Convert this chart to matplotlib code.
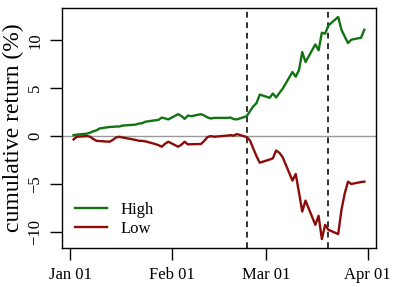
import pandas as pd
import matplotlib
matplotlib.use("Agg")
from matplotlib import pyplot as plt
import matplotlib.dates as mdates

plt.rcParams['font.family'] = ['Liberation Serif', 'DejaVu Serif']

# trading days, Jan 02 - Mar 31 2020
days = ["2020-01-02", "2020-01-03", "2020-01-06", "2020-01-07", "2020-01-08", "2020-01-09", "2020-01-10",
        "2020-01-13", "2020-01-14", "2020-01-15", "2020-01-16", "2020-01-17",
        "2020-01-21", "2020-01-22", "2020-01-23", "2020-01-24",
        "2020-01-27", "2020-01-28", "2020-01-29", "2020-01-30", "2020-01-31",
        "2020-02-03", "2020-02-04", "2020-02-05", "2020-02-06", "2020-02-07",
        "2020-02-10", "2020-02-11", "2020-02-12", "2020-02-13", "2020-02-14",
        "2020-02-18", "2020-02-19", "2020-02-20", "2020-02-21",
        "2020-02-24", "2020-02-25", "2020-02-26", "2020-02-27", "2020-02-28",
        "2020-03-02", "2020-03-03", "2020-03-04", "2020-03-05", "2020-03-06",
        "2020-03-09", "2020-03-10", "2020-03-11", "2020-03-12", "2020-03-13",
        "2020-03-16", "2020-03-17", "2020-03-18", "2020-03-19", "2020-03-20",
        "2020-03-23", "2020-03-24", "2020-03-25", "2020-03-26", "2020-03-27",
        "2020-03-30", "2020-03-31"]

high = [0.1, 0.15, 0.25, 0.35, 0.5, 0.6, 0.8,
        0.95, 0.97, 1.0, 1.0, 1.1,
        1.2, 1.3, 1.35, 1.5,
        1.65, 1.7, 1.94, 1.85, 1.74,
        2.29, 2.1, 1.8, 2.15, 2.08,
        2.29, 2.15, 1.95, 1.84, 1.9,
        1.9, 1.94, 1.78, 1.74,
        2.08, 2.6, 3.1, 3.45, 4.34,
        4.0, 4.45, 4.03, 4.5, 4.95,
        6.7, 6.2, 6.9, 8.78, 7.74,
        9.58, 8.96, 10.8, 10.7, 11.56,
        12.45, 11.1, 10.4, 9.72, 10.07,
        10.28, 11.11]

low = [-0.35, -0.07, 0.0, -0.05, -0.3, -0.49, -0.52,
       -0.59, -0.4, -0.15, -0.07, -0.15,
       -0.4, -0.49, -0.5, -0.55,
       -0.83, -0.95, -1.11, -0.8, -0.59,
       -1.11, -0.9, -0.59, -0.87, -0.85,
       -0.83, -0.5, -0.1, 0.0, -0.07,
       0.05, 0.1, 0.05, 0.21,
       -0.1, -0.45, -1.3, -2.1, -2.78,
       -2.45, -2.33, -1.5, -1.75, -2.2,
       -4.65, -3.96, -5.9, -7.88, -6.74,
       -9.27, -8.33, -10.76, -9.27, -9.79,
       -10.24, -7.7, -6.0, -4.76, -5.0,
       -4.8, -4.76]

events = ["2020-02-24", "2020-03-20"]
xticks = ["2020-01-01", "2020-02-01", "2020-03-01", "2020-04-01"]
yticks = [-10, -5, 0, 5, 10]

dates = pd.to_datetime(days)

fig = plt.figure(figsize=(3.97, 2.87), dpi=100)
ax = fig.add_axes([0.156, 0.136, 0.791, 0.836])

ax.axhline(0, color='#999999', linewidth=1, zorder=1)
for e in pd.to_datetime(events):
    ax.axvline(e, color='#222222', linewidth=1.3, linestyle=(0, (3.2, 2.6)), zorder=2)

ax.plot(dates, high, color='#137313', linewidth=1.7, label='High', zorder=3)
ax.plot(dates, low, color='#8b0b0b', linewidth=1.7, label='Low', zorder=3)

ax.margins(x=0.04, y=0.04)
ax.set_xticks(pd.to_datetime(xticks))
ax.xaxis.set_major_formatter(mdates.DateFormatter('%b %d'))
ax.set_yticks(yticks)
for lab in ax.get_yticklabels():
    lab.set_rotation(90)
    lab.set_va('center')

ax.tick_params(direction='out', length=8.5, width=1, labelsize=12, pad=5, colors='black')
for s in ax.spines.values():
    s.set_linewidth(1)
    s.set_color('black')

ax.set_ylabel('cumulative return (%)', fontsize=17, labelpad=2)

ax.legend(loc='lower left', frameon=False, fontsize=12, handlelength=1.9,
          handletextpad=0.85, labelspacing=0.2, borderaxespad=0.3,
          bbox_to_anchor=(0.005, -0.003))

fig.savefig('out.png', dpi=100)
